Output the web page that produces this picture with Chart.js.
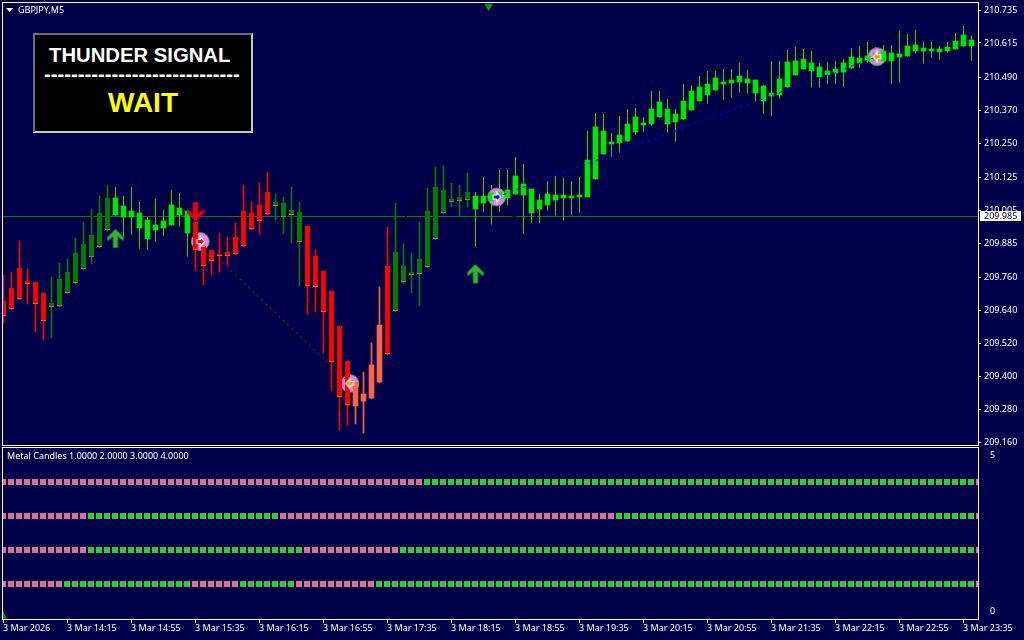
<!DOCTYPE html>
<html><head><meta charset="utf-8">
<style>
html,body{margin:0;padding:0;background:#00004a;width:1024px;height:640px;overflow:hidden}
canvas{position:absolute;left:0;display:block}
.t{position:absolute;white-space:pre;font-family:"Liberation Sans",Arial,sans-serif}
#panel{position:absolute;left:33px;top:33px;width:216px;height:96px;background:#000;border:2px solid;border-color:#6e6e6e #c8c8c8 #c8c8c8 #6e6e6e}
</style>
<script src="https://cdn.jsdelivr.net/npm/chart.js@4"></script>
</head><body>
<canvas id="main" width="1024" height="447" style="top:0"></canvas>
<canvas id="sub" width="1024" height="193" style="top:447px"></canvas>
<div id="panel"></div>
<div class="t" style="left:49px;top:43px;font:bold 20.3px/24px 'Liberation Sans';color:#fff">THUNDER SIGNAL</div>
<div class="t" id="dash" style="left:44px;top:62px;font:bold 20.3px/24px 'Liberation Sans';color:#fff">-----------------------------</div>
<div class="t" style="left:108px;top:87px;font:bold 28px/32px 'Liberation Sans';color:#ff0">WAIT</div>
<div class="t" style="left:18px;top:4px;font:9px/12px 'Noto Sans';color:#fff">GBPJPY,M5</div>
<div class="t" style="left:7px;top:450px;font:9px/12px 'Noto Sans';color:#fff">Metal Candles 1.0000 2.0000 3.0000 4.0000</div>
<svg style="position:absolute;left:6px;top:8px" width="8" height="5"><path d="M0 0H7L3.5 4Z" fill="#fff"/></svg>
<script>
const candleKind = 'RRRRRRDDDDDDDDLLLLLLLLLLRRRRRRRRRRDDDDRRRRRRCCCCRDDDDDDDDDDLLLLLLLLLLLLLLLLLLLLLLLLLLLLLLLLLLLLLLLLLLLLLLLLLLLLLLLLLLLLLLLL';
const bodyTop = [
209.675,209.723,209.795,209.748,209.744,209.705,209.668,209.755,209.781,209.850,
209.883,209.916,209.996,210.050,210.050,210.021,210.003,209.996,209.970,209.952,
209.967,210.025,210.014,210.003,209.963,209.872,209.861,209.847,209.854,209.908,
210.003,209.996,210.025,210.072,210.036,210.032,210.007,209.999,209.948,209.839,
209.785,209.712,209.584,209.457,209.380,209.337,209.442,209.588,209.803,209.854,
209.803,209.781,209.828,210.003,210.090,210.080,210.047,210.054,210.072,210.058,
210.058,210.069,210.072,210.080,210.131,210.101,210.083,210.043,210.065,210.061,
210.061,210.058,210.061,210.189,210.309,210.294,210.254,210.280,210.320,210.345,
210.323,210.375,210.400,210.375,210.356,210.404,210.440,210.455,210.466,210.487,
210.473,210.480,210.495,210.484,210.480,210.458,210.433,210.484,210.546,210.549,
210.557,210.542,210.528,210.513,210.520,210.542,210.564,210.560,210.568,210.579,
210.586,210.579,210.575,210.604,210.608,210.597,210.593,210.593,210.600,210.622,210.644,210.626];
const bodyBottom = [
209.621,209.646,209.682,209.737,209.664,209.602,209.654,209.657,209.705,209.741,
209.792,209.836,209.872,209.934,209.988,209.981,209.981,209.941,209.901,209.934,
209.941,209.952,209.988,209.923,209.861,209.803,209.821,209.839,209.839,209.847,
209.876,209.937,209.967,209.992,210.021,209.981,209.988,209.890,209.730,209.726,
209.635,209.453,209.326,209.297,209.293,209.311,209.322,209.380,209.482,209.639,
209.744,209.770,209.774,209.799,209.901,209.996,210.036,210.040,210.043,210.011,
210.032,210.040,210.047,210.050,210.065,210.061,209.996,210.011,210.025,210.043,
210.050,210.050,210.054,210.054,210.120,210.211,210.247,210.251,210.258,210.291,
210.316,210.320,210.345,210.320,210.327,210.338,210.371,210.404,210.426,210.444,
210.466,210.469,210.473,210.469,210.433,210.404,210.422,210.426,210.455,210.498,
210.520,210.513,210.491,210.498,210.506,210.509,210.524,210.542,210.549,210.549,
210.549,210.549,210.564,210.568,210.586,210.586,210.586,210.582,210.586,210.593,210.604,210.604];
const wickHigh = [
209.770,209.781,209.894,209.792,209.744,209.705,209.763,209.814,209.828,209.905,
209.963,210.011,210.058,210.098,210.090,210.058,210.090,210.036,209.981,210.047,
210.007,210.080,210.069,210.003,209.963,209.872,209.861,209.923,209.908,209.959,
210.098,210.036,210.105,210.145,210.065,210.054,210.090,210.036,209.948,209.861,
209.785,209.712,209.584,209.457,209.380,209.417,209.522,209.726,209.945,210.032,
209.883,209.850,209.963,210.087,210.163,210.167,210.105,210.098,210.141,210.072,
210.127,210.098,210.152,210.152,210.200,210.174,210.083,210.065,210.112,210.131,
210.123,210.112,210.127,210.294,210.360,210.356,210.287,210.349,210.375,210.378,
210.345,210.440,210.440,210.411,210.375,210.466,210.462,210.495,210.513,210.513,
210.520,210.520,210.542,210.517,210.480,210.462,210.549,210.549,210.589,210.600,
210.593,210.586,210.542,210.546,210.549,210.557,210.597,210.604,210.619,210.600,
210.608,210.608,210.659,210.648,210.662,210.619,210.619,210.604,210.619,210.651,210.677,210.640];
const wickLow = [
209.595,209.643,209.679,209.664,209.562,209.533,209.540,209.654,209.701,209.737,
209.788,209.810,209.868,209.930,209.985,209.908,209.916,209.865,209.861,209.890,
209.912,209.948,209.945,209.836,209.785,209.733,209.770,209.781,209.806,209.843,
209.872,209.934,209.919,209.988,209.970,209.919,209.887,209.730,209.628,209.635,
209.486,209.348,209.206,209.224,209.228,209.195,209.318,209.377,209.479,209.635,
209.737,209.705,209.657,209.795,209.897,209.992,210.018,209.985,210.018,209.872,
209.999,209.952,209.999,210.021,210.061,209.919,209.959,209.956,210.003,209.985,
209.967,209.988,209.996,210.054,210.116,210.207,210.200,210.214,210.254,210.280,
210.291,210.313,210.342,210.287,210.254,210.335,210.367,210.400,210.393,210.440,
210.407,210.415,210.433,210.429,210.400,210.356,210.349,210.411,210.451,210.495,
210.517,210.451,210.451,210.466,210.466,210.455,210.520,210.524,210.542,210.538,
210.542,210.466,210.469,210.564,210.575,210.538,210.560,210.553,210.579,210.589,210.600,210.549];
const zigzagIndex = [1,5,13,17,21,25,33,35,36,38,39,42,43,44,48,54,57,66,70,71,74,80,83,88,90,95,99,104,112,116];
const zigzagPrice = [209.781,209.602,210.098,209.865,210.080,209.733,210.145,209.952,210.025,209.628,209.733,209.271,209.315,209.253,209.872,210.163,210.058,209.959,210.123,210.025,210.360,210.345,210.287,210.513,210.520,210.356,210.589,210.542,210.659,210.611];
const signalIndex = [24.6,43.3,61.65,109.2];
const signalPrice = [209.892,209.375,210.054,210.565];
const arrowUpIndex = [14,59];
const arrowUpPrice = [209.903,209.775];
const arrowDownIndex = [24];
const arrowDownPrice = [210.000];
const topMarkIndex = [60.65];
const topMarkPrice = [210.749];
const currentPrice = 209.985;
const priceTicks = [210.735,210.615,210.490,210.370,210.250,210.125,210.005,209.885,209.760,209.640,209.520,209.400,209.280,209.160];
const timeTickIndex = [0,8,16,24,32,40,48,56,64,72,80,88,96,104,112,120];
const timeLabels = ['3 Mar 2026','3 Mar 14:15','3 Mar 14:55','3 Mar 15:35','3 Mar 16:15','3 Mar 16:55','3 Mar 17:35','3 Mar 18:15','3 Mar 18:55','3 Mar 19:35','3 Mar 20:15','3 Mar 20:55','3 Mar 21:35','3 Mar 22:15','3 Mar 22:55','3 Mar 23:35'];
const metalRuns1 = [53,69];
const metalRuns2 = [11,24,42,45];
const metalRuns3 = [11,27,12,72];
const metalRuns4 = [8,16,6,7,10,75];
const metalLevels = [4,3,2,1];
const metalTicks = [4.79,0.18];

const FONT = {family:'"Noto Sans",Arial,sans-serif',size:9};
const LABEL = '#ffffff';
const colors = {R:'#ff0000',C:'#ff6347',D:'#007c00',L:'#00e600'};
const idx = candleKind.split('').map((_,i)=>i);

function arrowCanvas(up,color,edge){
  const c=document.createElement('canvas');c.width=18;c.height=20;const g=c.getContext('2d');
  if(!up){g.translate(0,20);g.scale(1,-1);}
  g.beginPath();g.moveTo(9,0.5);g.lineTo(17.5,9);g.lineTo(16.5,12.5);g.lineTo(11.5,8);g.lineTo(11.5,19.5);g.lineTo(6.5,19.5);g.lineTo(6.5,8);g.lineTo(1.5,12.5);g.lineTo(.5,9);g.closePath();
  g.fillStyle=color;g.fill();if(edge){g.strokeStyle=edge;g.lineWidth=1;g.stroke();}
  return c;
}
function glyphCanvas(right,fill){
  const c=document.createElement('canvas');c.width=11;c.height=13;const g=c.getContext('2d');
  if(!right){g.translate(11,0);g.scale(-1,1);}
  g.beginPath();g.moveTo(5.5,1.5);g.lineTo(9.5,6.5);g.lineTo(5.5,11.5);g.lineTo(5.5,8.5);g.lineTo(2,8.5);g.lineTo(2,4.5);g.lineTo(5.5,4.5);g.closePath();
  g.fillStyle=fill;g.fill();g.strokeStyle='#fff';g.lineWidth=1.2;g.stroke();
  return c;
}
const glyphs=[glyphCanvas(true,'#f00000'),glyphCanvas(false,'#ffa000'),glyphCanvas(true,'#0000ff'),glyphCanvas(false,'#ff8c00')];

const snapBars={id:'snap',afterDatasetsUpdate(chart){
  chart.getSortedVisibleDatasetMetas().forEach(m=>{
    if(m.type==='bar') m.data.forEach(e=>{e.y=Math.round(e.y);e.base=Math.round(e.base);});
    if(m.dataset&&chart.data.datasets[m.index].label==='current') m.data.forEach(p=>{p.y=Math.round(p.y)+.5;});
  });
}};
const frame={id:'frame',afterDraw(chart){
  const a=chart.chartArea,g=chart.ctx;g.save();g.strokeStyle='#fff';g.lineWidth=1;
  g.strokeRect(a.left-.5,a.top-.5,a.right-a.left+1,a.bottom-a.top+1);
  if(chart.canvas.id==='main'){
    const y=chart.scales.y.getPixelForValue(currentPrice);
    g.fillStyle='#fff';g.fillRect(980,Math.round(y)-5,41,10);
    g.fillStyle='#00004a';g.font='9px "Noto Sans"';g.textBaseline='middle';g.textAlign='left';
    g.fillText(currentPrice.toFixed(3),984,Math.round(y)+.5);
  }
  g.restore();
}};
function fitY(s){s.width=46;s.paddingTop=0;s.paddingBottom=0;s.paddingLeft=0;s.paddingRight=0;}

new Chart(document.getElementById('main'),{
  type:'bar',
  data:{datasets:[
    {label:'current',type:'line',data:[{x:-1,y:currentPrice},{x:123,y:currentPrice}],borderColor:'#008000',borderWidth:1,pointRadius:0,order:12},
    {label:'zigzag',type:'line',data:zigzagIndex.map((k,i)=>({x:k,y:zigzagPrice[i]})),borderColor:'#000000',borderWidth:1,pointRadius:0,order:11},
    {label:'wicks',data:idx.map(i=>({x:i,y:[wickLow[i],wickHigh[i]]})),barThickness:1,grouped:false,
      backgroundColor:idx.map(i=>colors[candleKind[i]]),borderColor:'#ff0000',borderSkipped:false,
      borderWidth:idx.map(i=>candleKind[i]==='L'?{bottom:1,top:0,left:0,right:0}:0),order:10},
    {label:'signals',type:'line',showLine:false,data:signalIndex.map((k,i)=>({x:k,y:signalPrice[i]})),pointStyle:'circle',pointRadius:9,
      pointBackgroundColor:'#e680e6',pointBorderColor:'#2f9a50',pointBorderWidth:1,order:9},
    {label:'bodies',data:idx.map(i=>({x:i,y:[bodyBottom[i],bodyTop[i]]})),barThickness:5,grouped:false,
      backgroundColor:idx.map(i=>colors[candleKind[i]]),borderColor:'#ff6347',borderSkipped:false,
      borderWidth:idx.map(i=>(candleKind[i]==='R'||candleKind[i]==='D')?{bottom:1,top:0,left:0,right:0}:0),order:8},
    {label:'dashRed',type:'line',data:[0,1].map(i=>({x:signalIndex[i],y:signalPrice[i]})),borderColor:'#ff0000',borderWidth:1,borderDash:[2,4],pointRadius:0,order:5},
    {label:'dashBlue',type:'line',data:[2,3].map(i=>({x:signalIndex[i],y:signalPrice[i]})),borderColor:'#0000ff',borderWidth:1,borderDash:[3,4],pointRadius:0,order:5},
    {label:'glyphs',type:'line',showLine:false,data:signalIndex.map((k,i)=>({x:k,y:signalPrice[i]})),pointStyle:glyphs,pointRadius:5,order:2},
    {label:'arrowsUp',type:'line',showLine:false,data:arrowUpIndex.map((k,i)=>({x:k,y:arrowUpPrice[i]})),pointStyle:arrowCanvas(true,'#2eb52e'),pointRadius:5,order:1},
    {label:'arrowsDown',type:'line',showLine:false,data:arrowDownIndex.map((k,i)=>({x:k,y:arrowDownPrice[i]})),pointStyle:arrowCanvas(false,'#f00010','#a00030'),pointRadius:5,order:1},
    {label:'topMark',type:'line',showLine:false,data:topMarkIndex.map((k,i)=>({x:k,y:topMarkPrice[i]})),pointStyle:'triangle',rotation:180,pointRadius:5,pointBackgroundColor:'#0a9a0a',pointBorderWidth:0,order:1}
  ]},
  plugins:[snapBars,frame],
  options:{
    responsive:false,animation:false,
    layout:{autoPadding:false,padding:{left:3,top:3,bottom:2,right:0}},
    plugins:{legend:{display:false},tooltip:{enabled:false}},
    scales:{
      x:{type:'linear',display:false,offset:false,min:-0.0625,max:121.8125},
      y:{type:'linear',position:'right',min:209.151,max:210.7605,
        afterFit:fitY,
        afterBuildTicks(s){s.ticks=priceTicks.map(v=>({value:v}));},
        border:{display:false},
        grid:{drawOnChartArea:false,drawTicks:true,tickLength:3,tickColor:'#fff',color:'#fff'},
        ticks:{autoSkip:false,padding:3,color:LABEL,font:FONT,callback:v=>v.toFixed(3)}}
    }
  }
});

function runsToColors(runs){
  const out=[];runs.forEach((n,r)=>{for(let i=0;i<n;i++)out.push(r%2?'#32cd32':'#db7093');});return out;
}
const metalRuns=[metalRuns1,metalRuns2,metalRuns3,metalRuns4];
const metalSets=metalRuns.map((runs,r)=>({label:'Metal '+(r+1),type:'line',showLine:false,
  data:idx.map(i=>({x:i,y:metalLevels[r]})),pointStyle:'rect',pointRadius:4.2426,pointBorderWidth:0,
  pointBackgroundColor:runsToColors(runs)}));
metalSets.push({label:'corner',type:'line',showLine:false,data:[{x:0,y:0.05}],pointStyle:'triangle',pointRadius:5,pointBackgroundColor:'#0a8a0a',pointBorderWidth:0});

new Chart(document.getElementById('sub'),{
  type:'line',
  data:{datasets:metalSets},
  plugins:[frame],
  options:{
    responsive:false,animation:false,
    layout:{autoPadding:false,padding:{left:3,top:1,bottom:0,right:0}},
    plugins:{legend:{display:false},tooltip:{enabled:false}},
    scales:{
      x:{type:'linear',min:0,max:121.875,
        afterFit(s){s.height=21;s.paddingLeft=0;s.paddingRight=0;s.paddingTop=0;s.paddingBottom=0;},
        afterBuildTicks(s){s.ticks=timeTickIndex.map(v=>({value:v}));},
        border:{display:false},
        grid:{drawOnChartArea:false,drawTicks:true,tickLength:4,tickColor:'#fff',color:'#fff'},
        ticks:{autoSkip:false,maxRotation:0,minRotation:0,align:'start',padding:0,color:LABEL,font:FONT,
          callback:v=>timeLabels[timeTickIndex.indexOf(v)]}},
      y:{type:'linear',position:'right',min:-0.03,max:5,
        afterFit:fitY,
        afterBuildTicks(s){s.ticks=metalTicks.map(v=>({value:v}));},
        border:{display:false},
        grid:{display:false},
        ticks:{autoSkip:false,padding:4,color:LABEL,font:FONT,callback:v=>String(Math.round(v))}}
    }
  }
});
</script>
</body></html>
